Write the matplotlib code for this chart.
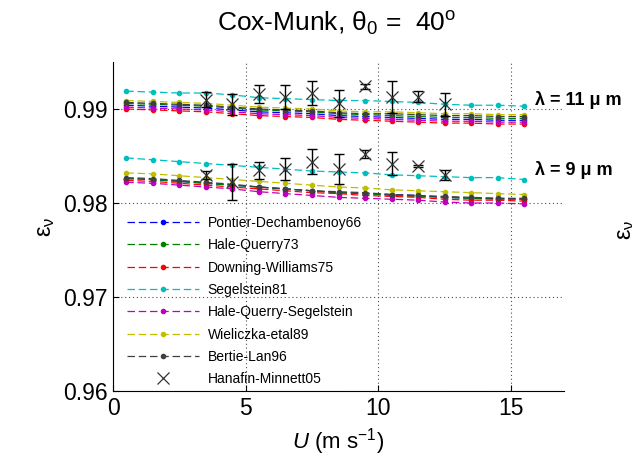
import matplotlib
matplotlib.use('Agg')
import matplotlib.pyplot as plt

plt.rcParams['font.family'] = ['Liberation Sans', 'DejaVu Sans']
plt.rcParams['mathtext.fontset'] = 'custom'
plt.rcParams['mathtext.rm'] = 'Liberation Sans'
plt.rcParams['mathtext.it'] = 'Liberation Sans:italic'

# wind speed (m/s)
u = [0.5, 1.5, 2.5, 3.5, 4.5, 5.5, 6.5, 7.5, 8.5, 9.5, 10.5, 11.5, 12.5, 13.5, 14.5, 15.5]

# lambda = 11 um
pontier11 = [0.9904, 0.9903, 0.9902, 0.9901, 0.9899, 0.9897, 0.9896, 0.9895, 0.9893, 0.9892, 0.9891, 0.9890, 0.9889, 0.9889, 0.9888, 0.9888]
halequerry11 = [0.9906, 0.9905, 0.9904, 0.9903, 0.9901, 0.9899, 0.9898, 0.9897, 0.9895, 0.9894, 0.9893, 0.9892, 0.9891, 0.9891, 0.9890, 0.9890]
downing11 = [0.9900, 0.9899, 0.9898, 0.9897, 0.9895, 0.9893, 0.9892, 0.9891, 0.9889, 0.9888, 0.9887, 0.9886, 0.9885, 0.9885, 0.9884, 0.9884]
segelstein11 = [0.9919, 0.9918, 0.9917, 0.9917, 0.9915, 0.9912, 0.9911, 0.9910, 0.9909, 0.9909, 0.9908, 0.9907, 0.9905, 0.9904, 0.9904, 0.9903]
hqs11 = [0.9902, 0.9901, 0.9900, 0.9899, 0.9897, 0.9895, 0.9894, 0.9893, 0.9891, 0.9890, 0.9889, 0.9888, 0.9887, 0.9887, 0.9886, 0.9886]
wieliczka11 = [0.9909, 0.9908, 0.9907, 0.9906, 0.9904, 0.9902, 0.9901, 0.9900, 0.9898, 0.9897, 0.9897, 0.9896, 0.9895, 0.9895, 0.9894, 0.9894]
bertie11 = [0.9907, 0.9906, 0.9905, 0.9904, 0.9902, 0.9900, 0.9899, 0.9898, 0.9896, 0.9895, 0.9895, 0.9894, 0.9893, 0.9893, 0.9892, 0.9892]

# lambda = 9 um
pontier9 = [0.9826, 0.9825, 0.9823, 0.9821, 0.9819, 0.9817, 0.9815, 0.9813, 0.9811, 0.9810, 0.9809, 0.9808, 0.9806, 0.9805, 0.9805, 0.9804]
halequerry9 = [0.9826, 0.9825, 0.9823, 0.9821, 0.9819, 0.9817, 0.9815, 0.9813, 0.9811, 0.9810, 0.9808, 0.9807, 0.9806, 0.9805, 0.9804, 0.9804]
downing9 = [0.9824, 0.9823, 0.9821, 0.9819, 0.9817, 0.9815, 0.9813, 0.9811, 0.9810, 0.9808, 0.9807, 0.9806, 0.9804, 0.9803, 0.9803, 0.9802]
segelstein9 = [0.9848, 0.9846, 0.9844, 0.9842, 0.9840, 0.9838, 0.9836, 0.9834, 0.9833, 0.9832, 0.9830, 0.9829, 0.9828, 0.9827, 0.9827, 0.9825]
hqs9 = [0.9822, 0.9821, 0.9819, 0.9817, 0.9815, 0.9812, 0.9810, 0.9808, 0.9806, 0.9805, 0.9804, 0.9803, 0.9801, 0.9800, 0.9800, 0.9799]
wieliczka9 = [0.9832, 0.9831, 0.9829, 0.9827, 0.9825, 0.9823, 0.9821, 0.9819, 0.9817, 0.9816, 0.9814, 0.9813, 0.9812, 0.9811, 0.9810, 0.9809]
bertie9 = [0.9827, 0.9826, 0.9824, 0.9822, 0.9820, 0.9817, 0.9815, 0.9813, 0.9812, 0.9811, 0.9809, 0.9808, 0.9807, 0.9806, 0.9805, 0.9805]

# Hanafin-Minnett05 measurements
u_hm = [3.5, 4.5, 5.5, 6.5, 7.5, 8.5, 9.5, 10.5, 11.5, 12.5]
hm11 = [0.9910, 0.9905, 0.9916, 0.9913, 0.9917, 0.9906, 0.9924, 0.9913, 0.9913, 0.9905]
hm11_err = [0.0008, 0.0011, 0.0010, 0.0013, 0.0013, 0.0014, 0.0003, 0.0017, 0.0006, 0.0012]
hm9 = [0.9830, 0.9822, 0.9835, 0.9836, 0.9844, 0.9836, 0.9852, 0.9842, 0.9839, 0.9830]
hm9_err = [0.0004, 0.0019, 0.0009, 0.0012, 0.0013, 0.0016, 0.0004, 0.0012, 0.0001, 0.0005]

names = ['Pontier-Dechambenoy66', 'Hale-Querry73', 'Downing-Williams75', 'Segelstein81',
         'Hale-Querry-Segelstein', 'Wieliczka-etal89', 'Bertie-Lan96']
colors = [(0, 0, 1), (0, 0.5, 0), (1, 0, 0), (0, 0.75, 0.75),
          (0.75, 0, 0.75), (0.75, 0.75, 0), (0.25, 0.25, 0.25)]
set11 = [pontier11, halequerry11, downing11, segelstein11, hqs11, wieliczka11, bertie11]
set9 = [pontier9, halequerry9, downing9, segelstein9, hqs9, wieliczka9, bertie9]

fig = plt.figure(figsize=(6.32, 4.65), dpi=100)
ax = fig.add_axes([113/632, 1-391/465, 451/632, 329/465])

for name, c, y11, y9 in zip(names, colors, set11, set9):
    ax.plot(u, y11, color=c, ls='--', dashes=(6, 3), lw=0.9, marker='.', ms=6, label=name)
    ax.plot(u, y9, color=c, ls='--', dashes=(6, 3), lw=0.9, marker='.', ms=6)

ax.errorbar(u_hm, hm11, yerr=hm11_err, fmt='none', ecolor='k', elinewidth=1, capsize=3.5, capthick=1)
ax.errorbar(u_hm, hm9, yerr=hm9_err, fmt='none', ecolor='k', elinewidth=1, capsize=3.5, capthick=1)
ax.plot(u_hm, hm11, 'x', color='0.2', ms=9, mew=0.9, label='Hanafin-Minnett05')
ax.plot(u_hm, hm9, 'x', color='0.2', ms=9, mew=0.9)

ax.set_xlim(0, 17)
ax.set_ylim(0.96, 0.995)
ax.set_xticks([0, 5, 10, 15])
ax.set_yticks([0.96, 0.97, 0.98, 0.99])
ax.set_yticklabels(['0.96', '0.97', '0.98', '0.99'])
ax.tick_params(direction='in', length=4, labelsize=16.5, pad=4)
for s in ['top', 'right']:
    ax.spines[s].set_visible(False)
ax.set_axisbelow(True)
ax.grid(True, ls=(0, (1, 2.5)), lw=0.8, color='0.3')

ax.set_xlabel(r'$U$ (m s$^{-1}$)', fontsize=16, labelpad=5)
ax.set_ylabel(r'$\mathrm{\varepsilon_\nu}$', fontsize=17, labelpad=4)

fig.text(337/632, 1-32/465, r'Cox-Munk, $\mathrm{\theta_0}$ =  40$^\mathrm{o}$',
         fontsize=19, ha='center', va='baseline')

ax.text(15.9, 0.9910, 'λ = 11 μ m', fontsize=13, fontweight='bold', va='center', ha='left', clip_on=False)
ax.text(15.9, 0.9835, 'λ = 9 μ m', fontsize=13, fontweight='bold', va='center', ha='left', clip_on=False)

# edge of the neighbouring panel's label, cut by the figure border as in the source
fig.text(0.99, 0.505, r'$\mathrm{\varepsilon_\nu}$', fontsize=17, rotation=90, ha='center', va='center')

ax.legend(loc='upper left', bbox_to_anchor=(14/451, 0.532), frameon=False, fontsize=10,
          handlelength=5.2, handletextpad=0.6, labelspacing=0.6, borderpad=0, borderaxespad=0,
          numpoints=1)

fig.savefig('out.png', dpi=100)
